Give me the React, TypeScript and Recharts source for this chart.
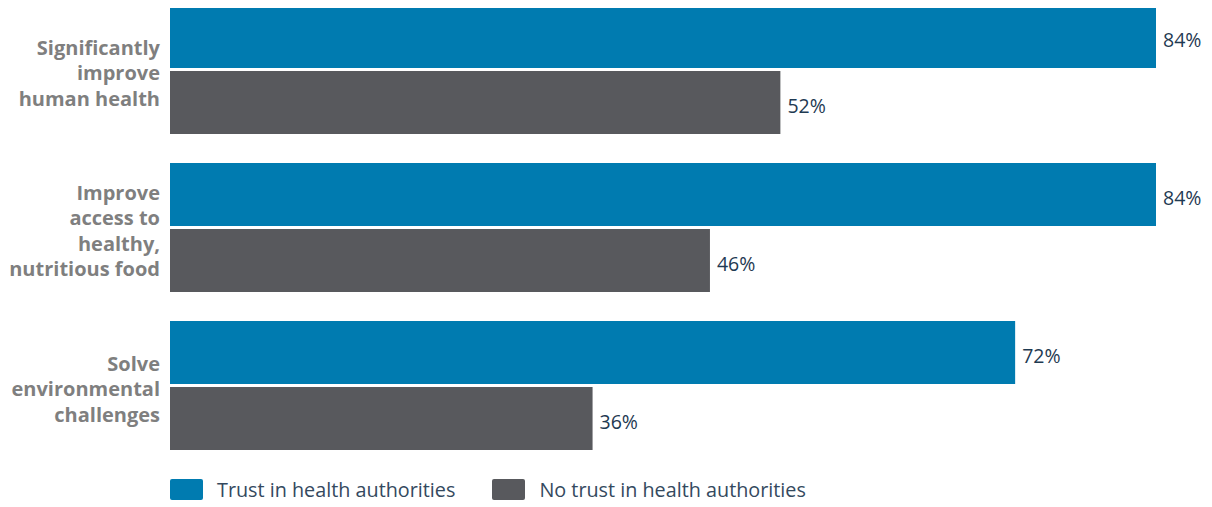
import React from "react";
import { BarChart, Bar, XAxis, YAxis, LabelList, Legend } from "recharts";

const categories = [
  "Significantly\nimprove\nhuman health",
  "Improve\naccess to\nhealthy,\nnutritious food",
  "Solve\nenvironmental\nchallenges",
];
const trustValues = [84, 84, 72];
const noTrustValues = [52, 46, 36];
const seriesNames = ["Trust in health authorities", "No trust in health authorities"];
const colors = ["#007bb0", "#58595d"];

const data = categories.map((c, i) => ({
  category: c,
  trust: trustValues[i],
  noTrust: noTrustValues[i],
}));

const CategoryTick = (props: any) => {
  const { x, y, payload } = props;
  const lines = String(payload.value).split("\n");
  const lh = 25.5;
  const start = -((lines.length - 1) / 2) * lh;
  return (
    <text
      x={x}
      y={y + 4}
      textAnchor="end"
      fill="#7f7f7f"
      fontFamily="'Open Sans', sans-serif"
      fontWeight={700}
      fontSize={20}
    >
      {lines.map((l, i) => (
        <tspan key={i} x={x} y={y + 4 + start + i * lh} dy="0.35em">
          {l}
        </tspan>
      ))}
    </text>
  );
};

const LegendContent = () => (
  <div
    style={{
      display: "flex",
      alignItems: "center",
      paddingLeft: 170,
      fontFamily: "'Open Sans', sans-serif",
      fontSize: 19.8,
      color: "#34495e",
    }}
  >
    {seriesNames.map((n, i) => (
      <div key={n} style={{ display: "flex", alignItems: "center", marginRight: 37 }}>
        <div
          style={{
            width: 33,
            height: 21,
            background: colors[i],
            borderRadius: 2,
            marginRight: 14,
          }}
        />
        <span>{n}</span>
      </div>
    ))}
  </div>
);

export default function App() {
  return (
    <div style={{ marginTop: -8, marginLeft: -8, background: "#fff" }}>
      <BarChart
        width={1212}
        height={507}
        data={data}
        layout="vertical"
        margin={{ top: -10, right: 56, bottom: 16, left: 0 }}
        barSize={63}
        barGap={3}
      >
        <XAxis type="number" domain={[0, 84]} hide />
        <YAxis
          type="category"
          dataKey="category"
          width={170}
          axisLine={false}
          tickLine={false}
          tick={<CategoryTick />}
          tickMargin={4}
        />
        <Legend
          verticalAlign="bottom"
          content={<LegendContent />}
          wrapperStyle={{ bottom: 4 }}
        />
        <Bar dataKey="trust" fill={colors[0]} isAnimationActive={false}>
          <LabelList
            dataKey="trust"
            position="right"
            offset={7}
            formatter={(v: any) => `${v}%`}
            fill="#1f3a52"
            fontFamily="'Open Sans', sans-serif"
            fontSize={19.5}
            dy={4}
          />
        </Bar>
        <Bar dataKey="noTrust" fill={colors[1]} isAnimationActive={false}>
          <LabelList
            dataKey="noTrust"
            position="right"
            offset={7}
            formatter={(v: any) => `${v}%`}
            fill="#1f3a52"
            fontFamily="'Open Sans', sans-serif"
            fontSize={19.5}
            dy={4}
          />
        </Bar>
      </BarChart>
    </div>
  );
}
